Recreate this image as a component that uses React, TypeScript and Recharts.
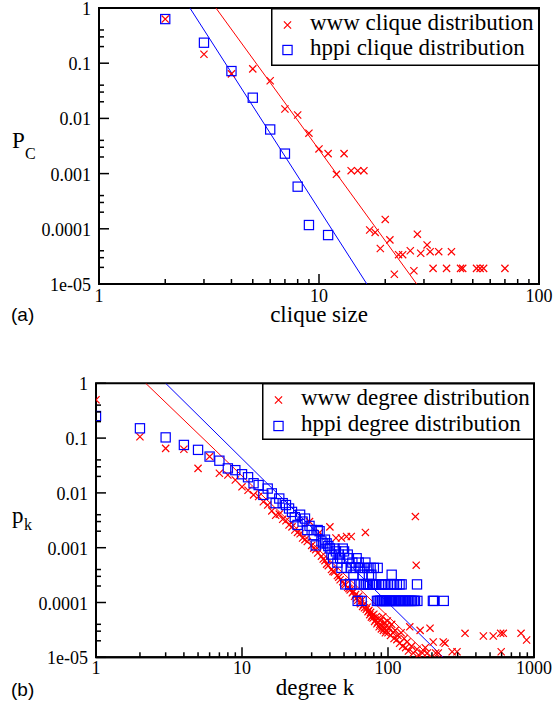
import React from 'react';
import { ScatterChart, Scatter, XAxis, YAxis, ReferenceArea, Legend } from 'recharts';

const SERIF = "'Liberation Serif','Times New Roman',serif";
const SANS = "'Liberation Sans',Arial,sans-serif";
const RED = '#ff0000';
const BLUE = '#0000ff';

// ---------- panel (a): clique size distribution ----------
const wwwCliqueSize = [2, 3, 4, 5, 6, 7, 8, 9, 10, 11, 12, 13, 14, 15, 16, 17, 18, 19, 20, 21, 22, 23, 24, 26, 27, 28, 29, 31, 32, 33, 35, 38, 40, 44, 45, 52, 54, 56, 70];
const wwwCliqueP = [0.63, 0.145, 0.064, 0.079, 0.048, 0.0148, 0.0115, 0.0054, 0.0028, 0.0023, 0.00097, 0.0023, 0.00113, 0.00113, 0.00113, 0.000095, 0.000086, 0.000044, 0.000148, 0.000063, 0.000015, 0.000034, 0.000034, 0.00004, 0.0000174, 0.00008, 0.000036, 0.000051, 0.0000385, 0.0000192, 0.0000385, 0.0000192, 0.0000385, 0.0000192, 0.0000192, 0.0000192, 0.0000192, 0.0000192, 0.0000192];
const hppiCliqueSize = [2, 3, 4, 5, 6, 7, 8, 9, 11];
const hppiCliqueP = [0.63, 0.235, 0.072, 0.0237, 0.0063, 0.0023, 0.00058, 0.000117, 0.000077];
const wwwCliqueFit = [[3.4, 1], [27.8, 0.00001]];
const hppiCliqueFit = [[2.59, 1], [16.5, 0.00001]];

// ---------- panel (b): degree distribution ----------
const wwwDegK = [1, 2, 3, 4, 5, 6, 7, 8, 9, 10, 11, 12, 13, 14, 15, 16, 17, 18, 19, 20, 21, 22, 23, 24, 25, 26, 27, 28, 29, 30, 31, 32, 33, 34, 35, 36, 37, 38, 39, 40, 41, 42, 43, 44, 45, 46, 47, 48, 49, 50, 51, 52, 53, 54, 55, 56, 57, 58, 59, 60, 61, 62, 63, 64, 65, 66, 67, 68, 69, 70, 71, 72, 73, 74, 75, 76, 77, 78, 79, 80, 81, 82, 83, 84, 85, 86, 87, 88, 89, 90, 91, 92, 93, 94, 95, 96, 97, 98, 99, 100, 102, 104, 106, 108, 110, 112, 115, 117, 120, 123, 126, 129, 132, 135, 138, 141, 145, 149, 154, 156, 158, 162, 166, 172, 180, 186, 194, 204, 212, 221, 239, 246, 275, 297, 337, 450, 526, 591, 596, 616, 815, 890];
const wwwDegP = [0.5, 0.106, 0.065, 0.0625, 0.028, 0.046, 0.0228, 0.0212, 0.0172, 0.0129, 0.0112, 0.0092, 0.0086, 0.0069, 0.006, 0.0047, 0.0039, 0.0041, 0.0033, 0.0031, 0.0026, 0.0024, 0.0021, 0.0019, 0.0018, 0.0015, 0.0014, 0.0013, 0.003, 0.0011, 0.00098, 0.00092, 0.0008, 0.0019, 0.0007, 0.00062, 0.00058, 0.0005, 0.00047, 0.0024, 0.0004, 0.00037, 0.00036, 0.0015, 0.00031, 0.00029, 0.00026, 0.0015, 0.00024, 0.00022, 0.00021, 0.0016, 0.00019, 0.00018, 0.00017, 0.0016, 0.00015, 0.00016, 0.00013, 0.00014, 0.00012, 0.00011, 0.00013, 0.0001, 0.000095, 0.00011, 0.000085, 0.000092, 0.00008, 0.0019, 0.000075, 0.000082, 0.000068, 0.000072, 0.00006, 0.000066, 0.000054, 0.000058, 0.000052, 0.000061, 0.000045, 0.000048, 0.000055, 0.000041, 0.000044, 0.000051, 0.000036, 0.00004, 0.000047, 0.000033, 0.000037, 0.000055, 0.000031, 0.000034, 0.000043, 0.000028, 0.000031, 0.000038, 0.000046, 0.000028, 0.000034, 0.000025, 0.00004, 0.000028, 0.000022, 0.000031, 0.000021, 0.000025, 0.000018, 0.000028, 0.000016, 0.000022, 0.000015, 0.000019, 0.000013, 0.000036, 0.000016, 0.000012, 0.0037, 0.00048, 0.000014, 0.000011, 0.000031, 0.000012, 0.000015, 0.000012, 0.000034, 0.000019, 0.000012, 0.000012, 0.000019, 0.000018, 0.0000126, 0.0000126, 0.0000274, 0.0000245, 0.0000245, 0.0000274, 0.0000126, 0.0000274, 0.0000274, 0.0000207];
const hppiDegK = [1, 2, 3, 4, 5, 6, 7, 8, 9, 10, 11, 12, 13, 14, 15, 16, 17, 18, 19, 20, 21, 22, 23, 24, 25, 26, 27, 28, 29, 30, 31, 32, 33, 34, 35, 36, 37, 38, 39, 40, 41, 42, 43, 44, 45, 46, 47, 48, 49, 50, 51, 52, 53, 54, 55, 56, 57, 58, 59, 60, 61, 62, 63, 64, 65, 66, 67, 68, 69, 70, 71, 72, 73, 74, 75, 76, 77, 78, 79, 80, 81, 83, 84, 85, 86, 87, 88, 89, 90, 91, 92, 93, 94, 95, 96, 97, 98, 100, 101, 103, 104, 105, 106, 107, 109, 110, 111, 113, 115, 116, 118, 120, 121, 123, 124, 126, 128, 131, 134, 137, 140, 143, 146, 150, 153, 158, 159, 203, 206, 241];
const hppiDegP = [0.253, 0.151, 0.103, 0.075, 0.061, 0.046, 0.0387, 0.028, 0.026, 0.0219, 0.0193, 0.015, 0.0139, 0.0092, 0.012, 0.0098, 0.0065, 0.0079, 0.0065, 0.006, 0.0052, 0.0045, 0.0036, 0.0026, 0.004, 0.003, 0.0034, 0.0021, 0.0025, 0.0021, 0.0017, 0.0011, 0.0021, 0.002, 0.0013, 0.0012, 0.0014, 0.0012, 0.00107, 0.00097, 0.000749, 0.000642, 0.000963, 0.000856, 0.000535, 0.000749, 0.000642, 0.000428, 0.000963, 0.000856, 0.000214, 0.000428, 0.000749, 0.000642, 0.000214, 0.000428, 0.000535, 0.000321, 0.000214, 0.000428, 0.000642, 0.000107, 0.000535, 0.000428, 0.000214, 0.000107, 0.000321, 0.000428, 0.000214, 0.000535, 0.000214, 0.000428, 0.000214, 0.000321, 0.000214, 0.000428, 0.000321, 0.000214, 0.000214, 0.000428, 0.000214, 0.000214, 0.000107, 0.000428, 0.000107, 0.000214, 0.000107, 0.000107, 0.000214, 0.000107, 0.000107, 0.000214, 0.000107, 0.000107, 0.000214, 0.000107, 0.000107, 0.000214, 0.000107, 0.000107, 0.000107, 0.000214, 0.000321, 0.000107, 0.000107, 0.000214, 0.000107, 0.000107, 0.000214, 0.000107, 0.000107, 0.000214, 0.000107, 0.000107, 0.000214, 0.000107, 0.000107, 0.000107, 0.000107, 0.000107, 0.000107, 0.000107, 0.000107, 0.000107, 0.000107, 0.000214, 0.000107, 0.000107, 0.000107, 0.000107];
const wwwDegFit = [[2.19, 1], [196, 0.00001]];
const hppiDegFit = [[3.0, 1], [239, 0.00001]];

// ---------- ticks and labels ----------
const xTicksA = [1, 2, 3, 4, 5, 6, 7, 8, 9, 10, 20, 30, 40, 50, 60, 70, 80, 90, 100];
const xTicksB = [1, 2, 3, 4, 5, 6, 7, 8, 9, 10, 20, 30, 40, 50, 60, 70, 80, 90, 100, 200, 300, 400, 500, 600, 700, 800, 900, 1000];
const yTicks = [1e-5, 2e-5, 3e-5, 4e-5, 1e-4, 2e-4, 3e-4, 4e-4, 1e-3, 2e-3, 3e-3, 4e-3, 1e-2, 2e-2, 3e-2, 4e-2, 0.1, 0.2, 0.3, 0.4, 1];
const xMajorValues = [1, 10, 100, 1000];
const xMajorLabels = ['1', '10', '100', '1000'];
const yMajorValues = [1, 0.1, 0.01, 0.001, 0.0001, 0.00001];
const yMajorLabels = ['1', '0.1', '0.01', '0.001', '0.0001', '1e-05'];
const legendA = ['www clique distribution', 'hppi clique distribution'];
const legendB = ['www degree distribution', 'hppi degree distribution'];

const toPts = (xs: number[], ys: number[]) => xs.map((x, i) => ({ x, y: ys[i] }));
const pairs = (p: number[][]) => p.map(([x, y]) => ({ x, y }));

const findLabel = (vals: number[], labels: string[], v: number) => {
  const i = vals.findIndex((m) => Math.abs(m - v) <= m * 1e-6);
  return i >= 0 ? labels[i] : null;
};

const makeXTick = (dy: number) => (props: any) => {
  const { x, y, payload } = props;
  const lab = findLabel(xMajorValues, xMajorLabels, payload.value);
  return (
    <g>
      <line x1={x} y1={y} x2={x} y2={y - (lab ? 10 : 5)} stroke="#000" strokeWidth={1.5} />
      {lab && (
        <text x={x} y={y + dy} textAnchor="middle" fontSize={18} fontFamily={SERIF} fill="#000">
          {lab}
        </text>
      )}
    </g>
  );
};

const YTick = (props: any) => {
  const { x, y, payload } = props;
  const lab = findLabel(yMajorValues, yMajorLabels, payload.value);
  return (
    <g>
      <line x1={x} y1={y} x2={x + (lab ? 10 : 5)} y2={y} stroke="#000" strokeWidth={1.5} />
      {lab && (
        <text x={x - 8} y={y + 7} textAnchor="end" fontSize={18} fontFamily={SERIF} fill="#000">
          {lab}
        </text>
      )}
    </g>
  );
};

const Cross = (props: any) => {
  const { cx, cy } = props;
  if (cx == null || cy == null) return <g />;
  const s = 3.6;
  return (
    <path
      d={`M${cx - s},${cy - s}L${cx + s},${cy + s}M${cx - s},${cy + s}L${cx + s},${cy - s}`}
      stroke={RED}
      strokeWidth={1.2}
      fill="none"
    />
  );
};

const Square = (props: any) => {
  const { cx, cy } = props;
  if (cx == null || cy == null) return <g />;
  const s = 4.6;
  return <rect x={cx - s} y={cy - s} width={2 * s} height={2 * s} stroke={BLUE} strokeWidth={1.2} fill="none" />;
};

const Empty = () => <g />;

const LegendBox = ({ w, h, labels, rowBase, symY }: { w: number; h: number; labels: string[]; rowBase: number[]; symY: number[] }) => (
  <svg width={w} height={h} style={{ display: 'block' }}>
    <rect x={0.75} y={0.75} width={w - 1.5} height={h - 1.5} fill="#fff" stroke="#000" strokeWidth={1.5} />
    <Cross cx={16.5} cy={symY[0]} />
    <Square cx={16.5} cy={symY[1]} />
    {labels.map((l, i) => (
      <text key={i} x={39} y={rowBase[i]} fontSize={23} fontFamily={SERIF} fill="#000">
        {l}
      </text>
    ))}
  </svg>
);

export default function App() {
  return (
    <div style={{ position: 'absolute', left: 0, top: 0, width: 555, height: 705, background: '#fff' }}>
      <div style={{ position: 'absolute', left: 0, top: 0 }}>
        <ScatterChart width={555} height={340} margin={{ top: 8, right: 16, bottom: 0, left: 0 }}>
          <XAxis
            type="number"
            dataKey="x"
            scale="log"
            domain={[1, 100]}
            allowDataOverflow
            ticks={xTicksA}
            interval={0}
            tickSize={0}
            tickMargin={0}
            tickLine={false}
            tick={makeXTick(18)}
            axisLine={{ stroke: '#000', strokeWidth: 2 }}
            height={56}
          />
          <YAxis
            type="number"
            dataKey="y"
            scale="log"
            domain={[0.00001, 1]}
            allowDataOverflow
            ticks={yTicks}
            interval={0}
            tickSize={0}
            tickMargin={0}
            tickLine={false}
            tick={<YTick />}
            axisLine={{ stroke: '#000', strokeWidth: 2 }}
            width={99}
          />
          <ReferenceArea x1={1} x2={100} y1={0.00001} y2={1} fill="none" stroke="#000" strokeWidth={2} ifOverflow="visible" />
          <Scatter data={pairs(wwwCliqueFit)} line={{ stroke: RED, strokeWidth: 1 }} shape={<Empty />} isAnimationActive={false} />
          <Scatter data={pairs(hppiCliqueFit)} line={{ stroke: BLUE, strokeWidth: 1 }} shape={<Empty />} isAnimationActive={false} />
          <Scatter data={toPts(wwwCliqueSize, wwwCliqueP)} shape={<Cross />} isAnimationActive={false} />
          <Scatter data={toPts(hppiCliqueSize, hppiCliqueP)} shape={<Square />} isAnimationActive={false} />
          <Legend
            verticalAlign="middle"
            align="center"
            layout="horizontal"
            wrapperStyle={{ position: 'absolute', left: 270.5, top: 8, width: 268.5, height: 58, margin: 0, padding: 0 }}
            content={() => <LegendBox w={268.5} h={58} labels={legendA} rowBase={[22, 47]} symY={[17, 42]} />}
          />
        </ScatterChart>
      </div>
      <div style={{ position: 'absolute', left: 0, top: 350 }}>
        <ScatterChart width={555} height={355} margin={{ top: 33.3, right: 21, bottom: 0, left: 0 }}>
          <XAxis
            type="number"
            dataKey="x"
            scale="log"
            domain={[1, 1000]}
            allowDataOverflow
            ticks={xTicksB}
            interval={0}
            tickSize={0}
            tickMargin={0}
            tickLine={false}
            tick={makeXTick(17)}
            axisLine={{ stroke: '#000', strokeWidth: 2 }}
            height={47.7}
          />
          <YAxis
            type="number"
            dataKey="y"
            scale="log"
            domain={[0.00001, 1]}
            allowDataOverflow
            ticks={yTicks}
            interval={0}
            tickSize={0}
            tickMargin={0}
            tickLine={false}
            tick={<YTick />}
            axisLine={{ stroke: '#000', strokeWidth: 2 }}
            width={96}
          />
          <ReferenceArea x1={1} x2={1000} y1={0.00001} y2={1} fill="none" stroke="#000" strokeWidth={2} ifOverflow="visible" />
          <Scatter data={pairs(wwwDegFit)} line={{ stroke: RED, strokeWidth: 1 }} shape={<Empty />} isAnimationActive={false} />
          <Scatter data={pairs(hppiDegFit)} line={{ stroke: BLUE, strokeWidth: 1 }} shape={<Empty />} isAnimationActive={false} />
          <Scatter data={toPts(wwwDegK, wwwDegP)} shape={<Cross />} isAnimationActive={false} />
          <Scatter data={toPts(hppiDegK, hppiDegP)} shape={<Square />} isAnimationActive={false} />
          <Legend
            verticalAlign="middle"
            align="center"
            layout="horizontal"
            wrapperStyle={{ position: 'absolute', left: 261.5, top: 33.3, width: 272.5, height: 57, margin: 0, padding: 0 }}
            content={() => <LegendBox w={272.5} h={57} labels={legendB} rowBase={[22, 48]} symY={[17, 43]} />}
          />
        </ScatterChart>
      </div>
      <svg width={555} height={705} style={{ position: 'absolute', left: 0, top: 0, pointerEvents: 'none' }}>
        <text x={319} y={322} textAnchor="middle" fontSize={23} fontFamily={SERIF} fill="#000">clique size</text>
        <text x={12} y={148} fontSize={23} fontFamily={SERIF} fill="#000">P</text>
        <text x={25} y={159} fontSize={16} fontFamily={SERIF} fill="#000">C</text>
        <text x={11} y={321} fontSize={19} fontFamily={SANS} fill="#000">(a)</text>
        <text x={315} y={695} textAnchor="middle" fontSize={23} fontFamily={SERIF} fill="#000">degree k</text>
        <text x={12} y={523} fontSize={23} fontFamily={SERIF} fill="#000">p</text>
        <text x={24} y={530} fontSize={16} fontFamily={SERIF} fill="#000">k</text>
        <text x={11} y={696} fontSize={19} fontFamily={SANS} fill="#000">(b)</text>
      </svg>
    </div>
  );
}
